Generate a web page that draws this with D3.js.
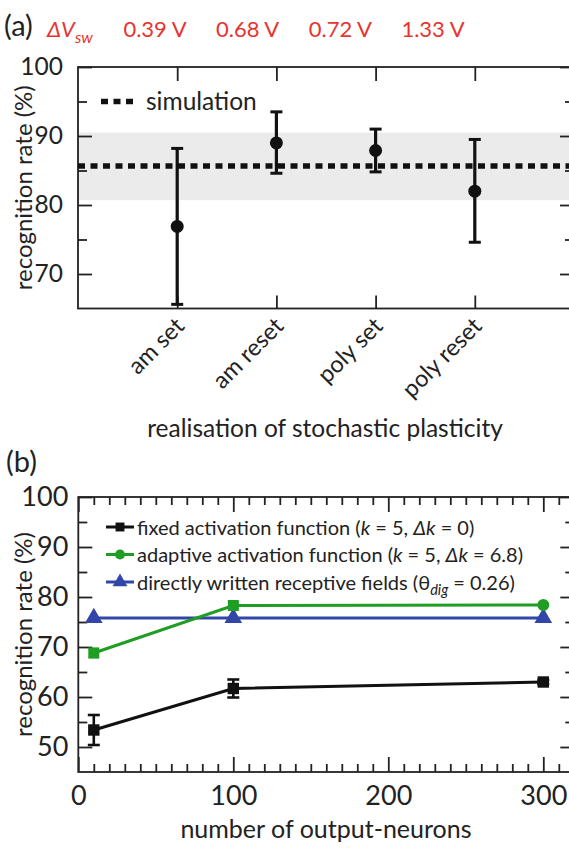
<!DOCTYPE html>
<html><head><meta charset="utf-8">
<script src="https://cdn.jsdelivr.net/npm/d3@7"></script>
<style>body{margin:0;background:#fff}svg{display:block;font-family:Lato,"Open Sans",sans-serif}</style>
</head><body><svg id="c" width="569" height="848"></svg>
<script>
// ---------- data: panel (a) ----------
const categoriesA = ["am set", "am reset", "poly set", "poly reset"];
const meanA = [76.9, 89.0, 87.9, 82.0];
const errLowA = [65.6, 84.6, 84.8, 74.6];
const errHighA = [88.2, 93.5, 91.0, 89.5];
const dVsw = ["0.39 V", "0.68 V", "0.72 V", "1.33 V"];
const simulationA = 85.65;
const simBandA = [80.7, 90.5];
const yTicksA = [70, 80, 90, 100];
const yMinorA = [75, 85, 95];

// ---------- data: panel (b) ----------
const neurons = [10, 100, 300];
const fixedRate = [53.4, 61.7, 63.0];
const fixedErr = [3.0, 1.8, 0.4];
const adaptiveRate = [68.8, 78.3, 78.4];
const adaptiveErr = [0.8, 0.6, 0];
const adaptiveMarker = ["square", "square", "circle"];
const directRate = [75.8, 75.8, 75.8];
const xTicksB = [0, 100, 200, 300];
const yTicksB = [50, 60, 70, 80, 90, 100];

const svg = d3.select("#c");
const FONT = 'Lato,"Open Sans",sans-serif';
const GREEN = "#1f9e23", BLUE = "#3246a8", RED = "#e8332f";

// ================= Panel (a) =================
const A = {l: 78, r: 574, t: 67, b: 308.5};
const xA = d3.scalePoint().domain(categoriesA).range([A.l, A.r]).padding(1);
const yA = d3.scaleLinear().domain([65, 100]).range([A.b, A.t]);
const gA = svg.append("g");

gA.append("rect").attr("x", A.l).attr("width", A.r - A.l)
  .attr("y", yA(simBandA[1])).attr("height", yA(simBandA[0]) - yA(simBandA[1]))
  .attr("fill", "#ebebeb");

function frame(g, box) {
  g.append("rect").attr("x", box.l).attr("y", box.t).attr("width", box.r - box.l)
    .attr("height", box.b - box.t).attr("fill", "none").attr("stroke", "#222").attr("stroke-width", 1.8);
}

const gLA = gA.append("g").attr("transform", `translate(${A.l},0)`)
  .call(d3.axisLeft(yA).tickValues(yTicksA).tickSize(-14).tickPadding(15).tickFormat(d3.format("d")));
gA.append("g").attr("transform", `translate(${A.l},0)`).call(d3.axisLeft(yA).tickValues(yMinorA).tickSize(-9).tickFormat(""));
gA.append("g").attr("transform", `translate(${A.r},0)`).call(d3.axisRight(yA).tickValues(yTicksA).tickSize(-14).tickFormat(""));
gA.append("g").attr("transform", `translate(${A.r},0)`).call(d3.axisRight(yA).tickValues(yMinorA).tickSize(-9).tickFormat(""));
gA.append("g").attr("transform", `translate(0,${A.t})`).call(d3.axisTop(xA).tickSize(-14).tickFormat(""));
const gBA = gA.append("g").attr("transform", `translate(0,${A.b})`).call(d3.axisBottom(xA).tickSize(-13).tickPadding(0));
gBA.selectAll("text").attr("text-anchor", "end").attr("dy", 0)
  .attr("transform", "translate(8,19) rotate(-45)");

gA.selectAll(".domain").remove();
gA.selectAll(".tick line").attr("stroke", "#222").attr("stroke-width", 1.8);
gLA.selectAll("text").attr("font-size", 24.5);
gBA.selectAll("text").attr("font-size", 23.5);
gA.selectAll(".tick text").attr("fill", "#222").attr("font-family", FONT);
frame(gA, A);

gA.append("line").attr("x1", A.l).attr("x2", A.r).attr("y1", yA(simulationA)).attr("y2", yA(simulationA))
  .attr("stroke", "#111").attr("stroke-width", 5.5).attr("stroke-dasharray", "7,5.5");

const ebA = gA.append("g").selectAll("g").data(categoriesA).join("g");
ebA.append("line").attr("x1", d => xA(d)).attr("x2", d => xA(d))
  .attr("y1", (d, i) => yA(errLowA[i])).attr("y2", (d, i) => yA(errHighA[i]))
  .attr("stroke", "#111").attr("stroke-width", 3.2);
ebA.append("line").attr("x1", d => xA(d) - 6).attr("x2", d => xA(d) + 6)
  .attr("y1", (d, i) => yA(errLowA[i])).attr("y2", (d, i) => yA(errLowA[i]))
  .attr("stroke", "#111").attr("stroke-width", 3);
ebA.append("line").attr("x1", d => xA(d) - 6).attr("x2", d => xA(d) + 6)
  .attr("y1", (d, i) => yA(errHighA[i])).attr("y2", (d, i) => yA(errHighA[i]))
  .attr("stroke", "#111").attr("stroke-width", 3);
ebA.append("circle").attr("cx", d => xA(d)).attr("cy", (d, i) => yA(meanA[i])).attr("r", 6.5).attr("fill", "#111");

gA.append("line").attr("x1", 101).attr("x2", 137).attr("y1", 101.5).attr("y2", 101.5)
  .attr("stroke", "#111").attr("stroke-width", 5.5).attr("stroke-dasharray", "7,5.5");
gA.append("text").attr("x", 146).attr("y", 109.5).attr("font-size", 24.5).attr("fill", "#222")
  .attr("font-family", FONT).text("simulation");

svg.append("text").attr("transform", `translate(32,${(A.t + A.b) / 2}) rotate(-90)`)
  .attr("text-anchor", "middle").attr("font-size", 24).attr("fill", "#222").text("recognition rate (%)");
svg.append("text").attr("x", 325).attr("y", 437).attr("text-anchor", "middle")
  .attr("font-size", 24.5).attr("fill", "#222").text("realisation of stochastic plasticity");

svg.append("text").attr("x", 4).attr("y", 36).attr("font-size", 29).attr("fill", "#222").text("(a)");
const hdr = svg.append("text").attr("x", 47).attr("y", 37).attr("font-size", 22).attr("fill", RED);
hdr.append("tspan").attr("font-style", "italic").text("ΔV");
hdr.append("tspan").attr("font-style", "italic").attr("font-size", 16).attr("dy", 6).text("sw");
const xHdr = d3.scalePoint().domain(dVsw).range([155, 433]);
svg.append("g").selectAll("text").data(dVsw).join("text")
  .attr("x", d => xHdr(d)).attr("y", 37).attr("text-anchor", "middle")
  .attr("font-size", 22).attr("fill", RED).text(d => d);

// ================= Panel (b) =================
const B = {l: 78.3, r: 574.3, t: 497, b: 772};
const xB = d3.scaleLinear().domain([0, 320]).range([B.l, B.r]);
const yB = d3.scaleLinear().domain([45, 100]).range([B.b, B.t]);
const gB = svg.append("g");
const minorX = d3.range(0, 321, 10).filter(v => v % 100 !== 0);
const minorY = d3.range(55, 100, 10);

const gLB = gB.append("g").attr("transform", `translate(${B.l},0)`)
  .call(d3.axisLeft(yB).tickValues(yTicksB).tickSize(-14).tickPadding(10).tickFormat(d3.format("d")));
gB.append("g").attr("transform", `translate(${B.l},0)`).call(d3.axisLeft(yB).tickValues(minorY).tickSize(-9).tickFormat(""));
gB.append("g").attr("transform", `translate(${B.r},0)`).call(d3.axisRight(yB).tickValues(yTicksB).tickSize(-14).tickFormat(""));
gB.append("g").attr("transform", `translate(${B.r},0)`).call(d3.axisRight(yB).tickValues(minorY).tickSize(-9).tickFormat(""));
const gXB = gB.append("g").attr("transform", `translate(0,${B.b})`)
  .call(d3.axisBottom(xB).tickValues(xTicksB).tickSize(-15).tickPadding(0).tickFormat(d3.format("d")));
gXB.selectAll("text").attr("dy", 0).attr("y", 33);
gB.append("g").attr("transform", `translate(0,${B.b})`).call(d3.axisBottom(xB).tickValues(minorX).tickSize(-8).tickFormat(""));
gB.append("g").attr("transform", `translate(0,${B.t})`).call(d3.axisTop(xB).tickValues(xTicksB).tickSize(-15).tickFormat(""));
gB.append("g").attr("transform", `translate(0,${B.t})`).call(d3.axisTop(xB).tickValues(minorX).tickSize(-8).tickFormat(""));
gB.selectAll(".domain").remove();
gB.selectAll(".tick line").attr("stroke", "#222").attr("stroke-width", 1.8);
gB.selectAll(".tick text").attr("font-size", 27).attr("fill", "#222").attr("font-family", FONT);
frame(gB, B);

const line = d3.line().x((d, i) => xB(neurons[i])).y(d => yB(d));
gB.append("path").datum(directRate).attr("d", line).attr("fill", "none").attr("stroke", BLUE).attr("stroke-width", 3);
gB.append("path").datum(adaptiveRate).attr("d", line).attr("fill", "none").attr("stroke", GREEN).attr("stroke-width", 3);
gB.append("path").datum(fixedRate).attr("d", line).attr("fill", "none").attr("stroke", "#111").attr("stroke-width", 3);

const tri = d3.symbol().type(d3.symbolTriangle).size(135);
gB.append("g").selectAll("path").data(directRate).join("path")
  .attr("d", tri).attr("transform", (d, i) => `translate(${xB(neurons[i])},${yB(d)})`).attr("fill", BLUE);

function errBars(g, vals, errs, color, cap, sw) {
  const e = g.append("g").selectAll("g").data(vals).join("g").filter((d, i) => errs[i] > 0);
  e.each(function(d) {
    const i = vals.indexOf(d);
    const s = d3.select(this), x = xB(neurons[i]);
    s.append("line").attr("x1", x).attr("x2", x).attr("y1", yB(d - errs[i])).attr("y2", yB(d + errs[i])).attr("stroke", color).attr("stroke-width", sw);
    [d - errs[i], d + errs[i]].forEach(v => s.append("line").attr("x1", x - cap).attr("x2", x + cap).attr("y1", yB(v)).attr("y2", yB(v)).attr("stroke", color).attr("stroke-width", sw));
  });
}
errBars(gB, adaptiveRate, adaptiveErr, GREEN, 5, 2.5);
gB.append("g").selectAll("path").data(adaptiveRate).join("path")
  .attr("d", (d, i) => d3.symbol().type(adaptiveMarker[i] === "square" ? d3.symbolSquare : d3.symbolCircle).size(adaptiveMarker[i] === "square" ? 121 : 113)())
  .attr("transform", (d, i) => `translate(${xB(neurons[i])},${yB(d)})`).attr("fill", GREEN);
errBars(gB, fixedRate, fixedErr, "#111", 6, 2.6);
gB.append("g").selectAll("path").data(fixedRate).join("path")
  .attr("d", d3.symbol().type(d3.symbolSquare).size(130))
  .attr("transform", (d, i) => `translate(${xB(neurons[i])},${yB(d)})`).attr("fill", "#111");

const legB = [
  {color: "#111", sym: d3.symbolSquare, size: 80, parts: [["fixed activation function (", ""], ["k", "i"], [" = 5, ", ""], ["Δk", "i"], [" = 0)", ""]]},
  {color: GREEN, sym: d3.symbolCircle, size: 80, parts: [["adaptive activation function (", ""], ["k", "i"], [" = 5, ", ""], ["Δk", "i"], [" = 6.8)", ""]]},
  {color: BLUE, sym: d3.symbolTriangle, size: 95, parts: [["directly written receptive fields (θ", ""], ["dig", "s"], [" = 0.26)", ""]]}
];
const lg = gB.append("g").selectAll("g").data(legB).join("g")
  .attr("transform", (d, i) => `translate(0,${527 + i * 27.5})`);
lg.append("line").attr("x1", 106).attr("x2", 134).attr("stroke", d => d.color).attr("stroke-width", 3);
lg.append("path").attr("d", d => d3.symbol().type(d.sym).size(d.size)()).attr("transform", "translate(120,0)").attr("fill", d => d.color);
lg.append("text").attr("x", 137).attr("y", 7.5).attr("font-size", 20).attr("fill", "#222")
  .each(function(d) {
    const t = d3.select(this);
    d.parts.forEach(p => {
      const sp = t.append("tspan").text(p[0]);
      if (p[1] === "i") sp.attr("font-style", "italic");
      if (p[1] === "s") { sp.attr("font-style", "italic").attr("font-size", 14.5).attr("dy", 5); }
    });
    t.selectAll("tspan").filter((p, k) => k > 0 && d.parts[k - 1][1] === "s").attr("dy", -5);
  });

svg.append("text").attr("transform", `translate(32,${(B.t + B.b) / 2}) rotate(-90)`)
  .attr("text-anchor", "middle").attr("font-size", 24).attr("fill", "#222").text("recognition rate (%)");
svg.append("text").attr("x", 326).attr("y", 838).attr("text-anchor", "middle")
  .attr("font-size", 25).attr("fill", "#222").text("number of output-neurons");
svg.append("text").attr("x", 6).attr("y", 472).attr("font-size", 29).attr("fill", "#222").text("(b)");
</script></body></html>
